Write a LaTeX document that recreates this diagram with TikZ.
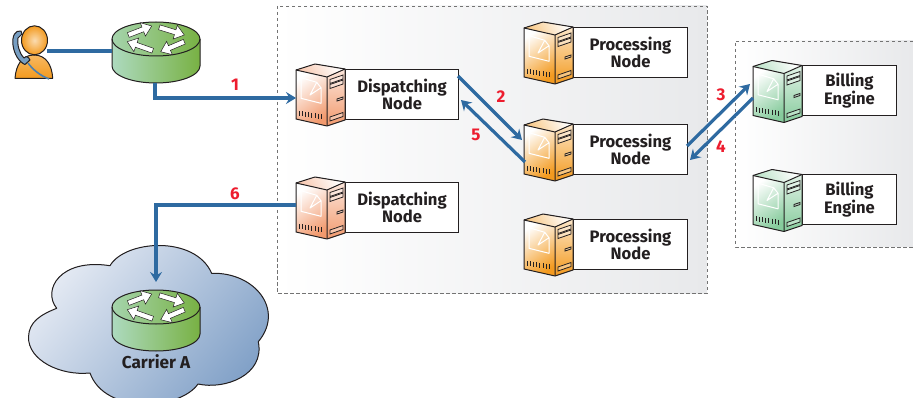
\documentclass[tikz,border=0pt]{standalone}
\usepackage{fontspec}
\setmainfont{Fira Sans}
\usetikzlibrary{arrows.meta,calc}
\definecolor{linkblue}{HTML}{2E6AA1}
\definecolor{numred}{HTML}{ED1C2E}
\definecolor{inkc}{HTML}{231F20}
\definecolor{cOrange}{HTML}{F39A1F}
\definecolor{cSalmon}{HTML}{F29A6E}
\definecolor{cGreen}{HTML}{86CB9C}
\definecolor{rLeft}{HTML}{ADDABF}
\definecolor{rRight}{HTML}{78B143}
\definecolor{cloudA}{HTML}{E6EBF4}
\definecolor{cloudB}{HTML}{7C9DC5}
\definecolor{zoneR}{HTML}{E8E9EB}
\tikzset{
  outl/.style={draw=inkc,line width=1pt,line join=round},
  labelbox/.style={draw=inkc,fill=white,line width=1pt,anchor=north west,inner sep=0pt,
    align=center,font=\bfseries\fontsize{16.6}{17}\selectfont,text=inkc},
  link/.style={draw=linkblue,line width=3.2pt},
  linkarrow/.style={link,-{Stealth[length=10pt,width=12pt,inset=3.5pt]}},
  stepnum/.style={text=numred,font=\bfseries\fontsize{17}{17}\selectfont,inner sep=0pt},
  zone/.style={draw=black!55,line width=.8pt,dash pattern=on 3.5pt off 2.5pt},
}
% server icon: origin = left top corner of the front face
\newcommand{\servericon}[3]{%
\begin{scope}[shift={(#1,#2)}]
  \fill[top color=white,bottom color=#3!55!white,shading angle=-60] (0,0)--(19,-6)--(49,-1)--(31,7)--cycle;
  \shade[top color=#3!25!white,bottom color=#3] (31,7)--(49,-1)--(49,50)--(31,56)--cycle;
  \shade[top color=white,bottom color=#3,shading angle=35] (0,0)--(31,7)--(31,56)--(0,49)--cycle;
  \draw[outl] (0,0)--(19,-6)--(49,-1)--(49,50)--(31,56)--(0,49)--cycle;
  \draw[outl] (0,0)--(31,7)--(49,-1) (31,7)--(31,56);
  \draw[white,line width=1pt,line join=round] (20.7,12.3)--(5,7.7)--(5,28.3)--(25,33.3)--(25,17.7)--(14,25)--(20.7,12.3)--(25,17.7);
  \foreach \k in {0,...,7} \draw[inkc,line width=.8pt] ({3+\k*3.2},{41+\k*.45})--++(0,5);
  \draw[draw=inkc,fill=white,fill opacity=.35,line width=.8pt] (34,9.5)--(47,5)--(47,9)--(34,13.5)--cycle;
  \draw[draw=inkc,fill=white,fill opacity=.35,line width=.8pt] (34,14.5)--(47,10)--(47,14)--(34,18.5)--cycle;
  \draw[draw=inkc,fill=white,fill opacity=.35,line width=.8pt] (41,29)--(47,27)--(47,29)--(41,31)--cycle;
  \draw[draw=inkc,fill=white,fill opacity=.35,line width=.8pt] (34,47)--(47,42.5)--(47,46.5)--(34,51)--cycle;
\end{scope}}
\newcommand{\serverbox}[7]{% name, x, y, colour, width, line1, line2
  \node[labelbox,minimum width=#5 pt,minimum height=50pt] (#1) at ({#2+49},{#3-1}) {#6\\#7};
  \servericon{#2}{#3}{#4}}
% small router arrow
\newcommand{\rarrow}[2]{%
  \coordinate (T) at #1; \coordinate (H) at #2;
  \coordinate (B) at ($(H)!9.5pt!(T)$);
  \filldraw[fill=white,draw=inkc,line width=.5pt,line join=miter]
    ($(T)!2.5pt!90:(H)$)--($(B)!2.5pt!90:(H)$)--($(B)!7.2pt!90:(H)$)--(H)--
    ($(B)!7.2pt!-90:(H)$)--($(B)!2.5pt!-90:(H)$)--($(T)!2.5pt!-90:(H)$)--cycle;}
\newcommand{\routericon}[2]{%
\begin{scope}[shift={(#1,#2)}]
  \shade[left color=rLeft,right color=rRight] (-44,0)--(-44,27) arc[x radius=44,y radius=17,start angle=180,end angle=0]--(44,0)--cycle;
  \shade[left color=rLeft!85!rRight,right color=rRight] (0,0) ellipse[x radius=44,y radius=17];
  \draw[outl] (-44,0)--(-44,27) arc[x radius=44,y radius=17,start angle=180,end angle=0]--(44,0);
  \draw[outl] (0,0) ellipse[x radius=44,y radius=17];
  \rarrow{(-27.7,-4)}{(-4.3,-13)}
  \rarrow{(3.3,-11.7)}{(28.3,-4)}
  \rarrow{(-3.3,11.7)}{(-28.7,2.7)}
  \rarrow{(28.3,2.7)}{(4.7,12.7)}
\end{scope}}
\begin{document}
\begin{tikzpicture}[x=1pt,y=-1pt]
\useasboundingbox (0,0) rectangle (913,398);
% zones
\shade[left color=white,right color=zoneR] (277,6) rectangle (707,293);
\draw[zone] (277,6) rectangle (707,293);
\shade[left color=white,right color=zoneR] (735,41) rectangle (913,247);
\draw[zone] (913,41)--(735,41)--(735,247)--(913,247);
% cloud
\begin{scope}
\clip (0,0) rectangle (913,398);
\filldraw[outl,top color=cloudA,bottom color=cloudB,shading angle=50]
  (56.7,308.3) .. controls (42,290) and (60,258) .. (110,265.7)
  .. controls (125,240) and (195,235) .. (211.7,273.3)
  .. controls (255,272) and (285,310) .. (258.3,341.7)
  .. controls (265,375) and (225,390) .. (198,384)
  .. controls (180,410) and (105,415) .. (90,373)
  .. controls (60,376) and (28,360) .. (28.5,337)
  .. controls (29,322) and (40,315) .. (56.7,308.3) -- cycle;
\end{scope}
% user
\coordinate (userR) at (47,51);
\coordinate (cordA) at (28,63);
\coordinate (cordB) at (49,79);
\filldraw[outl,top color=cOrange!70!white,bottom color=cOrange]
  (15,78.3) .. controls (16,65) and (22,55) .. (34,55) .. controls (46,55) and (52,65) .. (52.7,78.3) -- cycle;
\path[fill=white] (20,40) -- (26,52) -- (16,56) -- cycle;
\filldraw[outl,inner color=cOrange!35!white,outer color=cOrange] (34.5,40.3) ellipse[x radius=13,y radius=14.5];
\filldraw[outl,fill=linkblue!65!white]
  (21,31) .. controls (15,30) and (12,36) .. (13,45) .. controls (14,54) and (19,62) .. (25,64.5)
  -- (30,60) .. controls (28,56) and (26,56) .. (24,58)
  .. controls (19,53) and (17,44) .. (18,38) -- (22,34) -- cycle;
\draw[linkblue!85!white,line width=1.6pt] (cordA) .. controls (33,70) and (41,76) .. (cordB);
% routers
\routericon{156}{39}
\routericon{156}{307}
\coordinate (rOneW) at (112,51);
\coordinate (rOneS) at (155,83);
\coordinate (rTwoN) at (156,282);
% boxes
\serverbox{pOne}{524}{28}{cOrange}{114}{Processing}{Node}
\serverbox{pTwo}{524}{125}{cOrange}{114}{Processing}{Node}
\serverbox{pThree}{524}{220}{cOrange}{114}{Processing}{Node}
\serverbox{dOne}{296}{70}{cSalmon}{113}{Dispatching}{Node}
\serverbox{dTwo}{296}{183}{cSalmon}{113}{Dispatching}{Node}
\serverbox{bOne}{753}{66.5}{cGreen}{94}{Billing}{Engine}
\serverbox{bTwo}{753}{175.5}{cGreen}{94}{Billing}{Engine}
% connector ends
\coordinate (dOneW) at (296,98);
\coordinate (dOneE) at (458,76);
\coordinate (dOneR) at (461,100);
\coordinate (pTwoA) at (522,140);
\coordinate (pTwoB) at (525,162);
\coordinate (pTwoE) at (687,146);
\coordinate (pTwoF) at (690,160);
\coordinate (bOneA) at (750,84);
\coordinate (bOneB) at (753,98);
\coordinate (dTwoW) at (296,205);
% connectors
\draw[link] (userR)--(rOneW);
\draw[linkarrow] (rOneS)|-(dOneW);
\draw[linkarrow] (dOneE)--(pTwoA);
\draw[linkarrow] (pTwoB)--(dOneR);
\draw[linkarrow] (pTwoE)--(bOneA);
\draw[linkarrow] (bOneB)--(pTwoF);
\draw[linkarrow] (dTwoW)-|(rTwoN);
% labels
\node[stepnum] (n1) at (235,85) {1};
\node[stepnum] (n2) at (501,97) {2};
\node[stepnum] (n5) at (476,135) {5};
\node[stepnum] (n3) at (721,95) {3};
\node[stepnum] (n4) at (721,147) {4};
\node[stepnum] (n6) at (235,194) {6};
\node[text=inkc,font=\bfseries\fontsize{17.2}{17}\selectfont,inner sep=0pt] (carrier) at (156,362) {Carrier A};
\end{tikzpicture}
\end{document}
